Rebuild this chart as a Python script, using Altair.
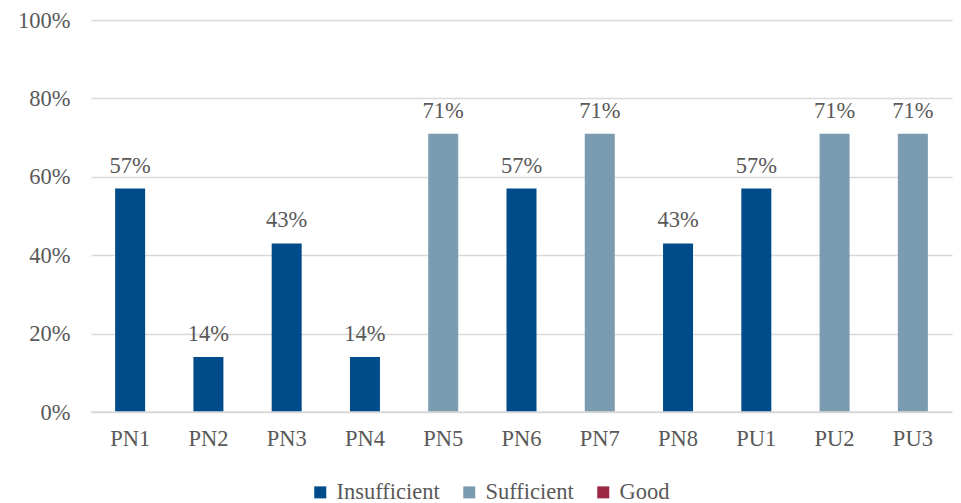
import altair as alt
import pandas as pd

categories = ["PN1", "PN2", "PN3", "PN4", "PN5", "PN6", "PN7", "PN8", "PU1", "PU2", "PU3"]
values = [0.57, 0.14, 0.43, 0.14, 0.71, 0.57, 0.71, 0.43, 0.57, 0.71, 0.71]
levels = ["Insufficient", "Insufficient", "Insufficient", "Insufficient", "Sufficient",
          "Insufficient", "Sufficient", "Insufficient", "Insufficient", "Sufficient", "Sufficient"]
legend_domain = ["Insufficient", "Sufficient", "Good"]
legend_colors = ["#004C8A", "#7A9BB0", "#9B2743"]

df = pd.DataFrame({"cat": categories, "val": values, "level": levels})

FONT = "Liberation Serif"
GREY = "#595959"
FS = 22.5

base = alt.Chart(df).encode(
    x=alt.X("cat:N", sort=categories, title=None,
            axis=alt.Axis(labelAngle=0, labelFont=FONT, labelFontSize=FS, labelColor=GREY,
                          ticks=False, domain=False, grid=False, labelPadding=15)),
    y=alt.Y("val:Q", title=None, scale=alt.Scale(domain=[0, 1]),
            axis=alt.Axis(format=".0%", values=[0, 0.2, 0.4, 0.6, 0.8, 1.0],
                          labelFont=FONT, labelFontSize=FS, labelColor=GREY,
                          ticks=False, domain=False, labelPadding=21,
                          gridColor="#D9D9D9", gridWidth=1.5)),
)

bars = base.mark_bar(size=30).encode(
    color=alt.Color("level:N", scale=alt.Scale(domain=legend_domain, range=legend_colors),
                    legend=alt.Legend(title=None, orient="none", direction="horizontal",
                                      legendX=218, legendY=461,
                                      labelFont=FONT, labelFontSize=FS, labelColor=GREY,
                                      symbolType="square", symbolSize=144, symbolStrokeWidth=0,
                                      columnPadding=18, labelOffset=5))
)

labels = base.mark_text(dy=-16, baseline="alphabetic", font=FONT, fontSize=FS, color=GREY).encode(
    text=alt.Text("val:Q", format=".0%")
)

baseline = alt.Chart(pd.DataFrame({"y": [0]})).mark_rule(color="#D9D9D9", strokeWidth=1.5).encode(
    y="y:Q"
)

chart = alt.layer(bars, labels, baseline).properties(
    width=861, height=392,
    autosize=alt.AutoSizeParams(type="none"),
    padding={"left": 91, "top": 20, "right": 9, "bottom": 91},
    background="white",
).configure(font=FONT).configure_view(stroke=None)

chart.save("out.html", embed_options={"renderer": "svg", "actions": False})
